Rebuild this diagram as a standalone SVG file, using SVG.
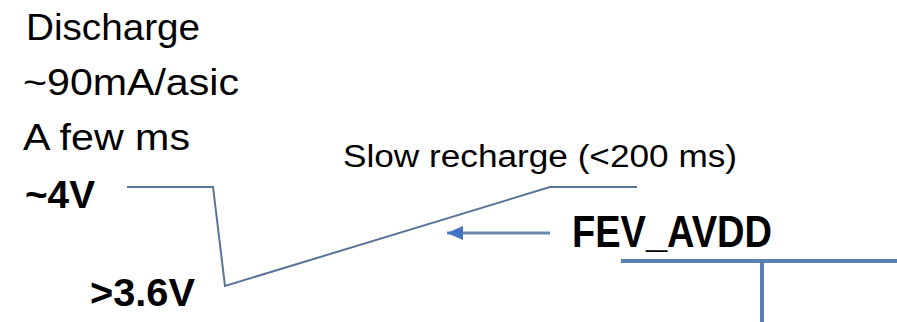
<svg xmlns="http://www.w3.org/2000/svg" width="897" height="322" viewBox="0 0 897 322">
  <style>
    .lbl { font-family: "Liberation Sans", Arial, sans-serif; fill: #000; }
    .big { font-size: 36px; }
    .bold { font-weight: bold; font-size: 38px; }
    .wave { fill: none; stroke: #5a7399; stroke-width: 2; stroke-linejoin: miter; }
    .bus { fill: none; stroke: #5b80b2; stroke-width: 4; }
  </style>
  <defs>
    <!-- head points along the line direction; tip sits on the line end -->
    <marker id="arrowHead" markerWidth="16" markerHeight="14" refX="16" refY="7" orient="auto" markerUnits="userSpaceOnUse" viewBox="0 0 16 14">
      <path d="M0,0 L16,7 L0,14 Z" fill="#4472c4"/>
    </marker>
  </defs>
  <rect width="897" height="322" fill="#fff"/>

  <!-- annotations -->
  <g id="discharge-note">
    <text class="lbl big" x="26" y="40" textLength="174" lengthAdjust="spacingAndGlyphs">Discharge</text>
    <text class="lbl big" x="23" y="95" textLength="216" lengthAdjust="spacingAndGlyphs">~90mA/asic</text>
    <text class="lbl big" x="23" y="150" textLength="167" lengthAdjust="spacingAndGlyphs">A few ms</text>
  </g>
  <g id="level-high">
    <text class="lbl bold" x="25" y="208" textLength="70" lengthAdjust="spacingAndGlyphs">~4V</text>
  </g>
  <g id="level-low">
    <text class="lbl bold" x="90" y="306" textLength="105" lengthAdjust="spacingAndGlyphs">&gt;3.6V</text>
  </g>
  <g id="recharge-note">
    <text class="lbl" x="343" y="167" font-size="31" textLength="394" lengthAdjust="spacingAndGlyphs">Slow recharge (&lt;200 ms)</text>
  </g>
  <g id="fev-avdd">
    <text class="lbl" x="572" y="247" font-size="44" font-weight="bold" textLength="200" lengthAdjust="spacingAndGlyphs">FEV_AVDD</text>
  </g>

  <!-- connectors -->
  <g id="connectors">
    <polyline class="wave" points="127,187 213,187 225,286 550,187 637,187"/>
    <line x1="550" y1="233" x2="447" y2="233" stroke="#6d88ad" stroke-width="3" marker-end="url(#arrowHead)"/>
    <line class="bus" x1="621" y1="261" x2="897" y2="261"/>
    <line class="bus" x1="762" y1="261" x2="762" y2="322"/>
  </g>
</svg>
